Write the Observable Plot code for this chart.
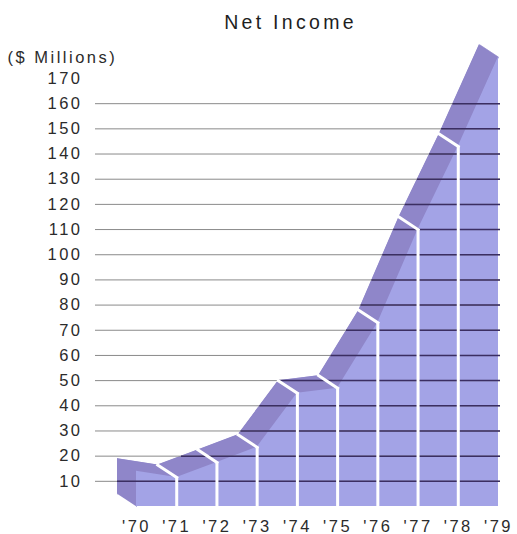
<!DOCTYPE html>
<html>
<head>
<meta charset="utf-8">
<script src="https://cdn.jsdelivr.net/npm/d3@7"></script>
<script src="https://cdn.jsdelivr.net/npm/@observablehq/plot@0.6"></script>
<style>
  html, body { margin: 0; padding: 0; background: #ffffff; }
  #chart svg { display: block; }
</style>
</head>
<body>
<div id="chart"></div>
<script>
// ---- data ----
const titleText = "Net Income";
const subtitleText = "($ Millions)";
const years = [1970, 1971, 1972, 1973, 1974, 1975, 1976, 1977, 1978, 1979];
const yearLabels = ["'70", "'71", "'72", "'73", "'74", "'75", "'76", "'77", "'78", "'79"];
const netIncome = [14, 11.5, 17.5, 23.5, 45, 47, 73, 110, 143, 178.5];
const yTicks = [10, 20, 30, 40, 50, 60, 70, 80, 90, 100, 110, 120, 130, 140, 150, 160, 170];
const gridValues = [10, 20, 30, 40, 50, 60, 70, 80, 90, 100, 110, 120, 130, 140, 150, 160];

// ---- layout ----
const W = 517, H = 534;
const mL = 136, mR = 19, mT = 78, mB = 28;
const yMax = 170;
const frontColor = "#a3a3e6";
const sideColor = "#8f86c9";
const textColor = "#2b2b2b";

const pxPerYear = (W - mL - mR) / (years[years.length - 1] - years[0]);
const pxPerUnit = (H - mT - mB) / yMax;
// 3D depth offset (pixels -> data units)
const DX = -19 / pxPerYear;
const DY = 12.5 / pxPerUnit;

const data = years.map((year, i) => ({year, value: netIncome[i]}));
const n = data.length;

// faces of the extruded shape
const polys = [];
polys.push({id: "left", pts: [
  [years[0], 0], [years[0], netIncome[0]],
  [years[0] + DX, netIncome[0] + DY], [years[0] + DX, DY]
]});
for (let i = 0; i < n - 1; i++) {
  polys.push({id: "top" + i, pts: [
    [years[i], netIncome[i]], [years[i + 1], netIncome[i + 1]],
    [years[i + 1] + DX, netIncome[i + 1] + DY], [years[i] + DX, netIncome[i] + DY]
  ]});
}
const polyRows = polys.flatMap(p => p.pts.map(([x, y]) => ({id: p.id, x, y})));

// whole silhouette polygons for grid-line darkening
const frontPoly = [[years[0], 0], ...data.map(d => [d.year, d.value]), [years[n - 1], 0]];
const backPoly = frontPoly.map(([x, y]) => [x + DX, y + DY]);
const allPolys = [frontPoly, backPoly, ...polys.map(p => p.pts)];
function inside(pt, poly) {
  let c = false;
  for (let i = 0, j = poly.length - 1; i < poly.length; j = i++) {
    const [xi, yi] = poly[i], [xj, yj] = poly[j];
    if ((yi > pt[1]) !== (yj > pt[1]) &&
        pt[0] < (xj - xi) * (pt[1] - yi) / (yj - yi) + xi) c = !c;
  }
  return c;
}
const gridX1 = years[0] + (95 - mL) / pxPerYear;
const gridX2 = years[n - 1] + 2 / pxPerYear;
const darkRows = [];
for (const v of gridValues) {
  for (let x = years[0] + DX; x <= years[n - 1]; x += 0.002) {
    if (allPolys.some(p => inside([x, v], p))) { darkRows.push({v, x1: x}); break; }
  }
}

const chart = Plot.plot({
  width: W,
  height: H,
  marginLeft: mL,
  marginRight: mR,
  marginTop: mT,
  marginBottom: mB,
  style: {
    fontFamily: "'Liberation Sans', Arial, sans-serif",
    fontSize: "16.5px",
    letterSpacing: "2.5px",
    color: textColor,
    background: "#ffffff"
  },
  x: {type: "linear", domain: [years[0], years[n - 1]]},
  y: {type: "linear", domain: [0, yMax]},
  marks: [
    // back face
    Plot.area(data, {x1: d => d.year + DX, y1: d => DY, y2: d => d.value + DY, fill: sideColor}),
    // side / top faces
    Plot.line(polyRows, {x: "x", y: "y", z: "id", fill: sideColor, stroke: sideColor, strokeWidth: 0.6}),
    // front face
    Plot.area(data, {x1: "year", y1: d => 0, y2: "value", fill: frontColor}),
    // grid lines: light over white, dark over the shape
    Plot.ruleY(gridValues, {y: d => d, x1: d => gridX1, x2: d => gridX2, stroke: "#8a8a8a", strokeWidth: 1}),
    Plot.ruleY(darkRows, {y: "v", x1: "x1", x2: d => gridX2, stroke: "#3b2e62", strokeWidth: 1.5}),
    // white separators
    Plot.ruleX(data.slice(1, -1), {x: "year", y1: d => 0, y2: "value", stroke: "#ffffff", strokeWidth: 3}),
    Plot.link(data.slice(1, -1), {
      x1: "year", y1: "value", x2: d => d.year + DX, y2: d => d.value + DY,
      stroke: "#ffffff", strokeWidth: 3, strokeLinecap: "square"
    }),
    // axes
    Plot.axisY(yTicks, {tickSize: 0, tickPadding: 54, fill: textColor, fontSize: 16.5}),
    Plot.axisX(years, {
      tickSize: 0, tickPadding: 14, fill: textColor, fontSize: 16.5,
      tickFormat: d => yearLabels[years.indexOf(d)]
    }),
    // title and subtitle
    Plot.text([titleText], {
      text: d => d, frameAnchor: "top-left", dx: 154, dy: -56,
      textAnchor: "middle", lineAnchor: "middle", fontSize: 19.5, fill: "#1e1e1e"
    }),
    Plot.text([subtitleText], {
      text: d => d, frameAnchor: "top-left", dx: -129, dy: -21,
      textAnchor: "start", lineAnchor: "middle", fontSize: 16.5, fill: textColor
    })
  ]
});

d3.select(chart).selectAll("text").filter(function() { return this.textContent === titleText; })
  .style("letter-spacing", "3.3px");

document.getElementById("chart").appendChild(chart);
</script>
</body>
</html>
